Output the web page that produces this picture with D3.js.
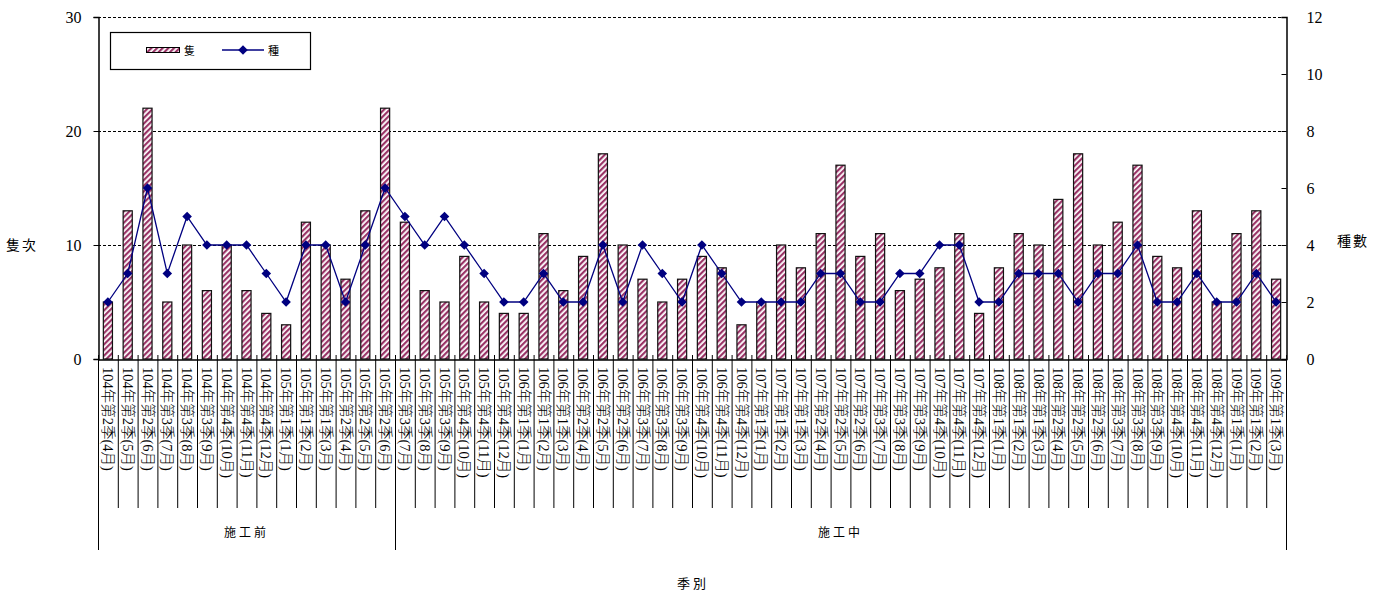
<!DOCTYPE html>
<html><head><meta charset="utf-8">
<script src="https://cdn.jsdelivr.net/npm/d3@7"></script>
<style>
body{margin:0;background:#fff;}
text{font-family:"Liberation Serif","Noto Sans CJK TC",serif;fill:#000;}
</style></head>
<body><svg id="c" width="1386" height="594"></svg>
<script>
const categories = [
"104年第2季(4月)","104年第2季(5月)","104年第2季(6月)",
"104年第3季(7月)","104年第3季(8月)","104年第3季(9月)",
"104年第4季(10月)","104年第4季(11月)","104年第4季(12月)",
"105年第1季(1月)","105年第1季(2月)","105年第1季(3月)",
"105年第2季(4月)","105年第2季(5月)","105年第2季(6月)",
"105年第3季(7月)","105年第3季(8月)","105年第3季(9月)",
"105年第4季(10月)","105年第4季(11月)","105年第4季(12月)",
"106年第1季(1月)","106年第1季(2月)","106年第1季(3月)",
"106年第2季(4月)","106年第2季(5月)","106年第2季(6月)",
"106年第3季(7月)","106年第3季(8月)","106年第3季(9月)",
"106年第4季(10月)","106年第4季(11月)","106年第4季(12月)",
"107年第1季(1月)","107年第1季(2月)","107年第1季(3月)",
"107年第2季(4月)","107年第2季(5月)","107年第2季(6月)",
"107年第3季(7月)","107年第3季(8月)","107年第3季(9月)",
"107年第4季(10月)","107年第4季(11月)","107年第4季(12月)",
"108年第1季(1月)","108年第1季(2月)","108年第1季(3月)",
"108年第2季(4月)","108年第2季(5月)","108年第2季(6月)",
"108年第3季(7月)","108年第3季(8月)","108年第3季(9月)",
"108年第4季(10月)","108年第4季(11月)","108年第4季(12月)",
"109年第1季(1月)","109年第1季(2月)","109年第1季(3月)"];
const shipCounts = [5,13,22,5,10,6,10,6,4,3,12,10,7,13,22,
 12,6,5,9,5,4,4,11,6,9,18,10,7,5,7,9,8,3,5,10,8,11,17,9,11,6,7,8,11,4,8,11,10,14,18,10,12,17,9,8,13,5,11,13,7];
const speciesCounts = [2,3,6,3,5,4,4,4,3,2,4,4,2,4,6,
 5,4,5,4,3,2,2,3,2,2,4,2,4,3,2,4,3,2,2,2,2,3,3,2,2,3,3,4,4,2,2,3,3,3,2,3,3,4,2,2,3,2,2,3,2];
const groups = [{name:"施工前", count:15},{name:"施工中", count:45}];
const leftTicks = [0,10,20,30];
const rightTicks = [0,2,4,6,8,10,12];
const seriesNames = ["隻","種"];

const svg = d3.select("#c");
const L=98, R=1286, T=17, B=359;
const x = d3.scaleBand().domain(categories).range([L,R]).paddingInner(0).paddingOuter(0);
const yL = d3.scaleLinear().domain([0,30]).range([B,T]);
const yR = d3.scaleLinear().domain([0,12]).range([B,T]);

const defs = svg.append("defs");
const pat = defs.append("pattern").attr("id","hatch").attr("patternUnits","userSpaceOnUse")
  .attr("width",4).attr("height",4).attr("patternTransform","rotate(45)");
pat.append("rect").attr("width",4).attr("height",4).attr("fill","#fff");
pat.append("rect").attr("width",2.2).attr("height",4).attr("fill","#993366");

// gridlines
svg.append("g").selectAll("line").data(leftTicks.filter(d=>d>0)).join("line")
  .attr("x1",L).attr("x2",R).attr("y1",d=>yL(d)+0.5).attr("y2",d=>yL(d)+0.5)
  .attr("stroke","#000").attr("stroke-dasharray","3,2").attr("stroke-width",1);

// bars
const bw = x.bandwidth()*0.46;
svg.append("g").selectAll("rect").data(shipCounts).join("rect")
  .attr("x",(d,i)=>x(categories[i])+x.bandwidth()/2-bw/2)
  .attr("y",d=>yL(d)).attr("width",bw).attr("height",d=>B-yL(d))
  .attr("fill","url(#hatch)").attr("stroke","#111").attr("stroke-width",1.2);

// line
const line = d3.line().x((d,i)=>x(categories[i])+x.bandwidth()/2).y(d=>yR(d));
svg.append("path").datum(speciesCounts).attr("d",line).attr("fill","none")
  .attr("stroke","#000080").attr("stroke-width",1.3);
const diamond = d3.symbol().type(d3.symbolSquare).size(46);
svg.append("g").selectAll("path").data(speciesCounts).join("path")
  .attr("transform",(d,i)=>`translate(${x(categories[i])+x.bandwidth()/2},${yR(d)}) rotate(45)`)
  .attr("d",diamond).attr("fill","#000080");

// left axis
const gl = svg.append("g").attr("transform",`translate(${L+0.5},0)`)
  .call(d3.axisLeft(yL).tickValues(leftTicks).tickSize(5).tickPadding(12));
gl.select(".domain").attr("stroke","#000").attr("stroke-width",1.5);
gl.selectAll("text").style("font-size","16px").style("font-family","Liberation Serif");
// right axis (ticks inward)
const gr = svg.append("g").attr("transform",`translate(${R+0.5},0)`)
  .call(d3.axisRight(yR).tickValues(rightTicks).tickSize(-5).tickPadding(20));
gr.select(".domain").attr("stroke","#000").attr("stroke-width",1.5);
gr.selectAll("text").style("font-size","16px").style("font-family","Liberation Serif");

// bottom axis
const gb = svg.append("g").attr("transform",`translate(0,${B+0.5})`)
  .call(d3.axisBottom(x).tickSize(0).tickFormat(""));
gb.select(".domain").attr("stroke","#000").attr("stroke-width",1.5);
const bounds = d3.range(categories.length+1).map(i=> i<categories.length ? x(categories[i]) : R);
svg.append("g").selectAll("line").data(bounds).join("line")
  .attr("x1",d=>d+0.5).attr("x2",d=>d+0.5).attr("y1",B-4).attr("y2",B)
  .attr("stroke","#000");
let acc=0; const groupEdges=[0];
groups.forEach(g=>{acc+=g.count; groupEdges.push(acc);});
svg.append("g").selectAll("line").data(bounds).join("line")
  .attr("x1",d=>d+0.5).attr("x2",d=>d+0.5).attr("y1",B)
  .attr("y2",(d,i)=>groupEdges.includes(i)?550:508)
  .attr("stroke","#000").attr("stroke-width",1);
// category labels
svg.append("g").selectAll("text").data(categories).join("text")
  .attr("transform",d=>`translate(${x(d)+x.bandwidth()/2},367) rotate(90)`)
  .attr("dominant-baseline","central").attr("text-anchor","start")
  .style("font-size","14.5px").style("font-weight","300").text(d=>d);
// group labels
svg.append("g").selectAll("text").data(groups).join("text")
  .attr("x",(g,i)=>(bounds[groupEdges[i]]+bounds[groupEdges[i+1]])/2)
  .attr("y",533).attr("text-anchor","middle").attr("dominant-baseline","central")
  .style("font-size","12px").style("letter-spacing","3px").text(g=>g.name);

// axis titles
svg.append("text").attr("x",22).attr("y",245).attr("text-anchor","middle").attr("dominant-baseline","central")
  .style("font-size","14px").style("letter-spacing","2px").text("隻次");
svg.append("text").attr("x",1353).attr("y",241).attr("text-anchor","middle").attr("dominant-baseline","central")
  .style("font-size","14px").style("letter-spacing","2px").text("種數");
svg.append("text").attr("x",693).attr("y",583).attr("text-anchor","middle").attr("dominant-baseline","central")
  .style("font-size","13px").style("letter-spacing","3px").text("季別");

// legend
const lg = svg.append("g");
lg.append("rect").attr("x",110.5).attr("y",32.5).attr("width",200).attr("height",37)
  .attr("fill","#fff").attr("stroke","#000").attr("stroke-width",1.2);
lg.append("rect").attr("x",146.5).attr("y",47.5).attr("width",33).attr("height",5)
  .attr("fill","url(#hatch)").attr("stroke","#000");
lg.append("text").attr("x",184).attr("y",51).attr("dominant-baseline","central")
  .style("font-size","11px").text(seriesNames[0]);
lg.append("line").attr("x1",222).attr("x2",264).attr("y1",50).attr("y2",50)
  .attr("stroke","#000080").attr("stroke-width",1.3);
lg.append("path").attr("transform","translate(243,50) rotate(45)").attr("d",diamond).attr("fill","#000080");
lg.append("text").attr("x",268).attr("y",51).attr("dominant-baseline","central")
  .style("font-size","11px").text(seriesNames[1]);
</script></body></html>
